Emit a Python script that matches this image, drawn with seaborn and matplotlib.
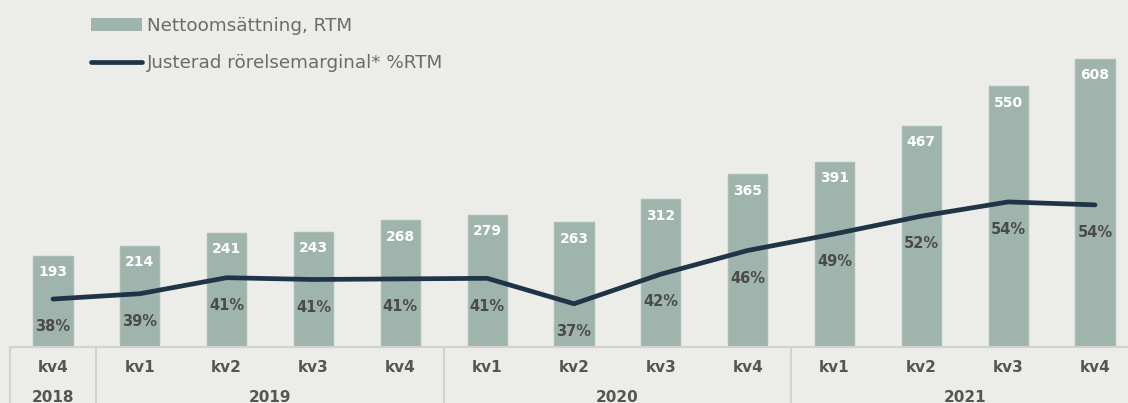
import numpy as np
import pandas as pd
import seaborn as sns
import matplotlib.pyplot as plt
from matplotlib.patches import Patch
from matplotlib.lines import Line2D
import matplotlib.transforms as mtransforms

quarters = ["kv4", "kv1", "kv2", "kv3", "kv4", "kv1", "kv2", "kv3", "kv4",
            "kv1", "kv2", "kv3", "kv4"]
years = ["2018", "2019", "2019", "2019", "2019", "2020", "2020", "2020", "2020",
         "2021", "2021", "2021", "2021"]
sales = [193, 214, 241, 243, 268, 279, 263, 312, 365, 391, 467, 550, 608]
margin = [37.6, 38.5, 41.2, 40.9, 41.0, 41.1, 36.8, 41.8, 45.8, 48.6, 51.6, 54.0, 53.5]
margin_labels = ["38%", "39%", "41%", "41%", "41%", "41%", "37%", "42%", "46%",
                 "49%", "52%", "54%", "54%"]

bg = "#ecece8"
bar_color = "#9fb4ad"
line_color = "#1f3447"
text_grey = "#555555"

sns.set_style("white")
plt.rcParams["font.family"] = ["DejaVu Sans"]

df = pd.DataFrame({"pos": range(len(sales)), "sales": sales, "margin": margin})

fig = plt.figure(figsize=(11.28, 4.03), dpi=100, facecolor=bg)
ax = fig.add_axes([0, 56 / 403, 1, 347 / 403])
ax.set_facecolor(bg)

sns.barplot(data=df, x="pos", y="sales", color=bar_color, width=0.45,
            saturation=1, ax=ax, native_scale=True, edgecolor="#a9bcb6",
            linewidth=1)
ax.set_ylim(0, 732)
ax.set_xlim(-0.61, 12.38)

ax2 = ax.twinx()
sns.lineplot(data=df, x="pos", y="margin", color=line_color, linewidth=3.4,
             ax=ax2, solid_capstyle="round", solid_joinstyle="round")
ax2.set_ylim(29.5, 88.1)

for a in (ax, ax2):
    a.set_xlabel("")
    a.set_ylabel("")
    a.set_xticks([])
    a.set_yticks([])
    for s in a.spines.values():
        s.set_visible(False)

for i, v in enumerate(sales):
    ax.annotate(str(v), (i, v), xytext=(0, -12), textcoords="offset points",
                ha="center", va="center", color="white", fontsize=10,
                fontweight="bold")

for i, (m, lab) in enumerate(zip(margin, margin_labels)):
    ax2.annotate(lab, (i, m), xytext=(0, -20), textcoords="offset points",
                 ha="center", va="center", color="#4a4a4a", fontsize=10.5,
                 fontweight="bold")

# table below the bars
trans = mtransforms.blended_transform_factory(ax.transData, ax.transAxes)
bottom = -56 / 347
ax.plot([-0.5, 12.5], [0, 0], color="#d2d2cf", lw=1.5, transform=trans,
        clip_on=False)
for xs in [-0.5, 0.5, 4.5, 8.5]:
    ax.plot([xs, xs], [0, bottom], color="#d2d2cf", lw=1.5, transform=trans,
            clip_on=False)

for i, q in enumerate(quarters):
    ax.text(i, -20 / 347, q, transform=trans, ha="center", va="center",
            fontsize=11, fontweight="bold", color=text_grey)

year_names = pd.Series(years)
for y in year_names.unique():
    idx = np.where(year_names == y)[0]
    ax.text(idx.mean(), -50 / 347, y, transform=trans, ha="center",
            va="center", fontsize=11, fontweight="bold", color=text_grey)

handles = [Patch(facecolor=bar_color, edgecolor="none"),
           Line2D([0], [0], color=line_color, lw=3.4, solid_capstyle="round")]
fig.legend(handles, ["Nettoomsättning, RTM", "Justerad rörelsemarginal* %RTM"],
           loc="upper left", bbox_to_anchor=(82 / 1128, 1 - 8 / 403),
           frameon=False, borderpad=0, fontsize=13.2, labelcolor="#6b6b6b",
           handlelength=2.78, handletextpad=0.28, labelspacing=1.05)

fig.savefig("out.png", dpi=100, facecolor=bg)
